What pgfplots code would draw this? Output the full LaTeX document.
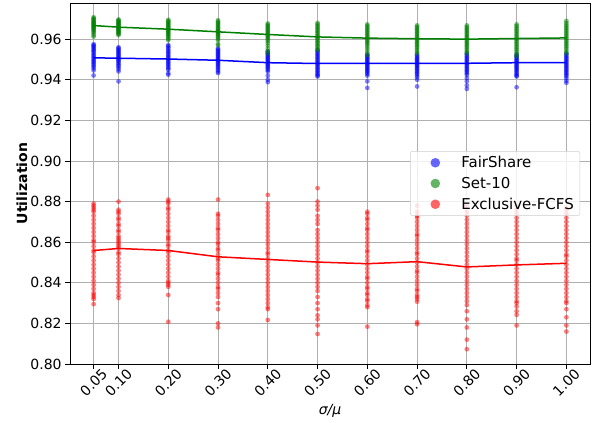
\documentclass[border=0pt]{standalone}
\usepackage{fontspec}
\setmainfont{DejaVu Sans}
\usepackage{pgfplots}
\usepackage{pgfplotstable}
\pgfplotsset{compat=1.18}
\definecolor{mblue}{HTML}{0000FF}
\definecolor{mgreen}{HTML}{008000}
\definecolor{mred}{HTML}{FF0000}
\definecolor{gridc}{HTML}{B0B0B0}
\definecolor{legc}{HTML}{CCCCCC}

% FairShare samples, one column per sigma/mu value
\pgfplotstableread{
c0 c1 c2 c3 c4 c5 c6 c7 c8 c9 c10
0.9575 0.9560 0.9571 0.9555 0.9540 0.9546 0.9525 0.9525 0.9530 0.9525 0.9530
0.9570 0.9555 0.9565 0.9549 0.9534 0.9539 0.9519 0.9518 0.9523 0.9519 0.9523
0.9564 0.9549 0.9558 0.9543 0.9528 0.9532 0.9513 0.9511 0.9516 0.9513 0.9516
0.9558 0.9543 0.9550 0.9537 0.9522 0.9525 0.9507 0.9505 0.9509 0.9507 0.9509
0.9551 0.9537 0.9542 0.9531 0.9516 0.9518 0.9501 0.9499 0.9502 0.9501 0.9502
0.9545 0.9531 0.9535 0.9525 0.9510 0.9511 0.9495 0.9493 0.9495 0.9495 0.9495
0.9538 0.9525 0.9528 0.9519 0.9504 0.9504 0.9489 0.9487 0.9488 0.9489 0.9488
0.9530 0.9519 0.9520 0.9513 0.9498 0.9497 0.9483 0.9481 0.9481 0.9483 0.9481
0.9522 0.9513 0.9513 0.9507 0.9492 0.9490 0.9477 0.9475 0.9474 0.9477 0.9474
0.9515 0.9507 0.9506 0.9501 0.9486 0.9483 0.9471 0.9469 0.9467 0.9471 0.9467
0.9508 0.9501 0.9499 0.9495 0.9480 0.9476 0.9465 0.9463 0.9460 0.9465 0.9460
0.9500 0.9495 0.9492 0.9489 0.9474 0.9469 0.9459 0.9457 0.9453 0.9459 0.9453
0.9493 0.9489 0.9485 0.9483 0.9468 0.9462 0.9453 0.9450 0.9446 0.9453 0.9446
0.9487 0.9482 0.9478 0.9477 0.9462 0.9455 0.9447 0.9443 0.9439 0.9447 0.9439
0.9480 0.9475 0.9471 0.9470 0.9455 0.9448 0.9441 0.9436 0.9432 0.9440 0.9432
0.9472 0.9468 0.9463 0.9463 0.9448 0.9441 0.9435 0.9429 0.9424 0.9433 0.9425
0.9465 0.9460 0.9456 0.9456 0.9440 0.9434 0.9428 0.9421 0.9408 0.9426 0.9418
0.9456 0.9451 0.9449 0.9448 0.9420 0.9427 0.9420 0.9412 0.9392 0.9420 0.9408
0.9446 0.9441 0.9432 0.9440 0.9400 0.9421 0.9392 0.9400 0.9372 0.9416 0.9395
0.9421 0.9392 0.9425 0.9433 0.9388 0.9416 0.9360 0.9367 0.9355 0.9363 0.9385
}\bluetab

% Set-10 samples
\pgfplotstableread{
c0 c1 c2 c3 c4 c5 c6 c7 c8 c9 c10
0.9708 0.9697 0.9695 0.9693 0.9677 0.9680 0.9673 0.9668 0.9668 0.9673 0.9690
0.9703 0.9693 0.9690 0.9687 0.9671 0.9673 0.9666 0.9661 0.9660 0.9665 0.9680
0.9698 0.9689 0.9685 0.9681 0.9665 0.9666 0.9659 0.9654 0.9653 0.9657 0.9671
0.9693 0.9685 0.9680 0.9675 0.9659 0.9659 0.9652 0.9647 0.9646 0.9649 0.9663
0.9688 0.9681 0.9675 0.9669 0.9653 0.9652 0.9645 0.9640 0.9639 0.9641 0.9655
0.9684 0.9677 0.9670 0.9663 0.9647 0.9645 0.9638 0.9633 0.9632 0.9633 0.9647
0.9680 0.9673 0.9665 0.9657 0.9641 0.9638 0.9631 0.9626 0.9625 0.9625 0.9639
0.9676 0.9669 0.9660 0.9651 0.9635 0.9631 0.9624 0.9619 0.9618 0.9617 0.9631
0.9672 0.9665 0.9655 0.9646 0.9629 0.9624 0.9617 0.9612 0.9611 0.9609 0.9623
0.9668 0.9661 0.9650 0.9641 0.9623 0.9617 0.9610 0.9605 0.9604 0.9601 0.9615
0.9664 0.9657 0.9645 0.9636 0.9617 0.9610 0.9603 0.9598 0.9597 0.9593 0.9607
0.9660 0.9653 0.9640 0.9631 0.9611 0.9603 0.9596 0.9591 0.9590 0.9585 0.9599
0.9656 0.9649 0.9635 0.9626 0.9605 0.9596 0.9589 0.9584 0.9583 0.9577 0.9591
0.9652 0.9645 0.9630 0.9621 0.9598 0.9589 0.9582 0.9577 0.9576 0.9569 0.9583
0.9647 0.9641 0.9625 0.9615 0.9590 0.9582 0.9575 0.9570 0.9569 0.9561 0.9575
0.9642 0.9637 0.9620 0.9609 0.9580 0.9575 0.9566 0.9563 0.9562 0.9553 0.9567
0.9636 0.9633 0.9614 0.9602 0.9568 0.9568 0.9556 0.9555 0.9554 0.9545 0.9559
0.9629 0.9629 0.9608 0.9595 0.9555 0.9561 0.9545 0.9547 0.9546 0.9536 0.9550
0.9620 0.9625 0.9601 0.9576 0.9542 0.9553 0.9534 0.9538 0.9538 0.9526 0.9540
0.9612 0.9620 0.9595 0.9570 0.9530 0.9546 0.9522 0.9530 0.9530 0.9516 0.9530
}\greentab

% Exclusive-FCFS samples
\pgfplotstableread{
c0 c1 c2 c3 c4 c5 c6 c7 c8 c9 c10
0.879 0.880 0.881 0.881 0.8833 0.8866 0.875 0.878 0.878 0.878 0.877
0.878 0.876 0.880 0.874 0.879 0.880 0.874 0.875 0.875 0.876 0.876
0.877 0.875 0.879 0.873 0.877 0.878 0.872 0.873 0.873 0.874 0.874
0.876 0.874 0.877 0.871 0.875 0.876 0.871 0.872 0.871 0.872 0.872
0.875 0.872 0.876 0.869 0.873 0.873 0.869 0.870 0.869 0.870 0.870
0.873 0.871 0.874 0.867 0.871 0.871 0.867 0.868 0.867 0.868 0.868
0.871 0.869 0.872 0.866 0.869 0.869 0.866 0.866 0.865 0.866 0.866
0.869 0.868 0.870 0.864 0.867 0.866 0.864 0.864 0.863 0.864 0.864
0.867 0.866 0.868 0.862 0.865 0.864 0.862 0.863 0.861 0.862 0.862
0.865 0.865 0.866 0.860 0.863 0.862 0.860 0.861 0.859 0.860 0.860
0.863 0.863 0.865 0.859 0.861 0.860 0.858 0.859 0.857 0.858 0.858
0.861 0.862 0.863 0.857 0.859 0.858 0.856 0.857 0.855 0.856 0.856
0.860 0.861 0.862 0.856 0.857 0.856 0.855 0.855 0.853 0.854 0.854
0.858 0.860 0.861 0.854 0.855 0.854 0.853 0.854 0.851 0.852 0.853
0.856 0.859 0.859 0.852 0.854 0.852 0.851 0.852 0.849 0.851 0.851
0.855 0.858 0.858 0.851 0.852 0.850 0.849 0.850 0.847 0.849 0.849
0.853 0.857 0.856 0.849 0.850 0.848 0.847 0.848 0.845 0.847 0.847
0.851 0.855 0.855 0.847 0.848 0.846 0.845 0.846 0.843 0.845 0.845
0.849 0.854 0.853 0.845 0.846 0.844 0.843 0.845 0.841 0.843 0.843
0.847 0.852 0.851 0.844 0.844 0.842 0.842 0.843 0.839 0.841 0.841
0.845 0.850 0.849 0.842 0.842 0.840 0.840 0.841 0.837 0.839 0.839
0.843 0.848 0.847 0.840 0.840 0.838 0.838 0.839 0.835 0.837 0.837
0.841 0.846 0.845 0.838 0.838 0.836 0.837 0.837 0.833 0.835 0.835
0.839 0.844 0.843 0.837 0.836 0.833 0.835 0.836 0.831 0.833 0.833
0.837 0.842 0.841 0.835 0.834 0.830 0.834 0.834 0.829 0.831 0.831
0.835 0.840 0.840 0.833 0.832 0.827 0.832 0.833 0.826 0.830 0.830
0.834 0.838 0.839 0.830 0.830 0.824 0.831 0.832 0.822 0.8283 0.827
0.833 0.836 0.838 0.827 0.828 0.822 0.829 0.8307 0.818 0.826 0.823
0.832 0.834 0.834 0.820 0.827 0.819 0.828 0.8206 0.812 0.8242 0.819
0.8295 0.8325 0.8208 0.818 0.8217 0.8148 0.8184 0.8196 0.8073 0.819 0.816
}\redtab

% mean lines
\pgfplotstableread{
x b g r
0.05 0.9508 0.9667 0.8559
0.10 0.9506 0.9659 0.8569
0.20 0.9502 0.9649 0.8559
0.30 0.9496 0.9636 0.8528
0.40 0.9484 0.9623 0.8515
0.50 0.9480 0.9611 0.8502
0.60 0.9481 0.9605 0.8494
0.70 0.9481 0.9602 0.8504
0.80 0.9481 0.9600 0.8478
0.90 0.9484 0.9603 0.8488
1.00 0.9484 0.9606 0.8496
}\meantab

\begin{document}
\begin{tikzpicture}
\begin{axis}[
  scale only axis, width=520bp, height=361bp,
  xmin=0.0025, xmax=1.0475, ymin=0.80, ymax=0.9778,
  xtick={0.05,0.1,0.2,0.3,0.4,0.5,0.6,0.7,0.8,0.9,1.0},
  xticklabels={0.05,0.10,0.20,0.30,0.40,0.50,0.60,0.70,0.80,0.90,1.00},
  ytick={0.80,0.82,0.84,0.86,0.88,0.90,0.92,0.94,0.96},
  yticklabels={0.80,0.82,0.84,0.86,0.88,0.90,0.92,0.94,0.96},
  grid=major, major grid style={gridc, line width=0.8bp},
  axis line style={black, line width=0.8bp},
  tick align=outside, major tick length=4.9bp,
  tick style={black, line width=0.8bp},
  xtick pos=bottom, ytick pos=left,
  tick label style={font=\fontsize{14bp}{16bp}\selectfont},
  xticklabel style={yshift=-13.5bp, rotate=45, anchor=center},
  xlabel={\textit{σ/μ}}, ylabel={\bfseries Utilization},
  label style={font=\fontsize{14bp}{16bp}\selectfont},
  xlabel style={at={(axis description cs:0.5,-0.1302)}, anchor=center},
  ylabel style={at={(axis description cs:-0.0923,0.5)}, anchor=center},
  legend style={at={(1,0.5)}, anchor=east, xshift=-10bp, draw=legc,
    rounded corners=2bp, fill=white, fill opacity=0.8, text opacity=1,
    font=\fontsize{15bp}{17bp}\selectfont, row sep=4bp,
    inner xsep=4bp, inner ysep=3bp},
  legend cell align=left,
]
\pgfplotsinvokeforeach{0,...,10}{
  \addplot[only marks, mark=*, mark size=2.4bp, color=mblue,
    mark options={fill=mblue, draw opacity=0, fill opacity=0.5}, forget plot]
    table[x expr={max(0.05,0.1*#1)}, y index=#1] \bluetab;
}
\pgfplotsinvokeforeach{0,...,10}{
  \addplot[only marks, mark=*, mark size=2.4bp, color=mgreen,
    mark options={fill=mgreen, draw opacity=0, fill opacity=0.5}, forget plot]
    table[x expr={max(0.05,0.1*#1)}, y index=#1] \greentab;
}
\pgfplotsinvokeforeach{0,...,10}{
  \addplot[only marks, mark=*, mark size=2.4bp, color=mred,
    mark options={fill=mred, draw opacity=0, fill opacity=0.5}, forget plot]
    table[x expr={max(0.05,0.1*#1)}, y index=#1] \redtab;
}
\addplot[mblue, line width=1.5bp, forget plot] table[x=x, y=b] \meantab;
\addplot[mgreen, line width=1.5bp, forget plot] table[x=x, y=g] \meantab;
\addplot[mred, line width=1.5bp, forget plot] table[x=x, y=r] \meantab;

\addlegendimage{legend image code/.code={\fill[draw=none, fill=mblue, fill opacity=0.6] (21bp,0) circle (4.8bp); \path[draw=none, fill=none] (0,-1bp) rectangle (45bp,1bp);}}
\addlegendentry{FairShare}
\addlegendimage{legend image code/.code={\fill[draw=none, fill=mgreen, fill opacity=0.6] (21bp,0) circle (4.8bp); \path[draw=none, fill=none] (0,-1bp) rectangle (45bp,1bp);}}
\addlegendentry{Set-10}
\addlegendimage{legend image code/.code={\fill[draw=none, fill=mred, fill opacity=0.6] (21bp,0) circle (4.8bp); \path[draw=none, fill=none] (0,-1bp) rectangle (45bp,1bp);}}
\addlegendentry{Exclusive-FCFS}
\end{axis}
\pgfresetboundingbox
\path ([shift={(-70bp,-59bp)}]current axis.south west) rectangle ([shift={(4bp,3bp)}]current axis.north east);
\end{tikzpicture}
\end{document}
